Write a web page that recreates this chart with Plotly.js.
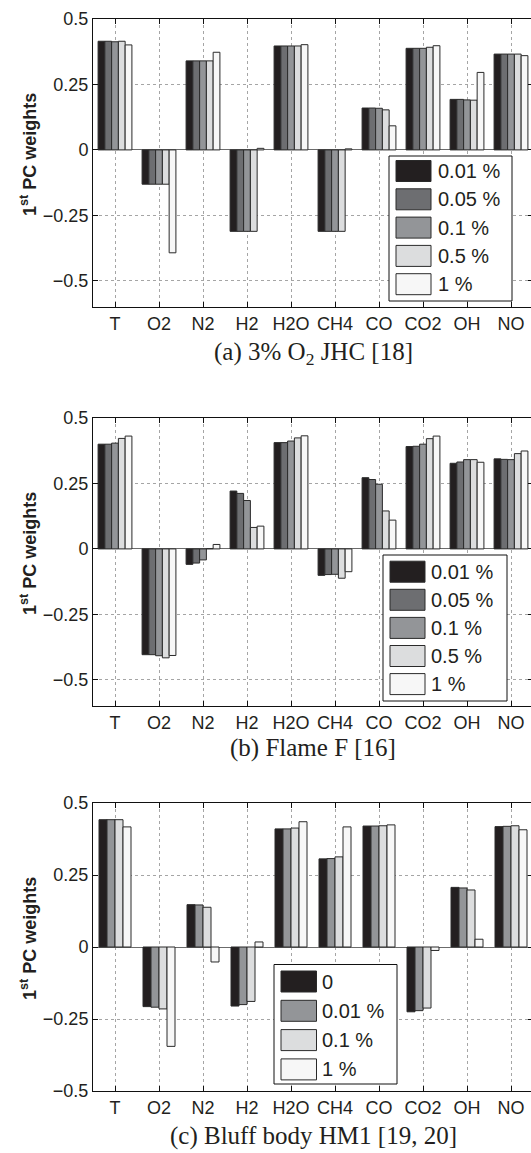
<!DOCTYPE html>
<html>
<head>
<meta charset="utf-8">
<script src="https://cdn.plot.ly/plotly-3.0.1.min.js"></script>
<style>
  html, body { margin: 0; padding: 0; overflow: hidden; background: #fff; }
</style>
</head>
<body>
<div id="chart"></div>
<script>
// Species on the x axis
const species = ['T', 'O2', 'N2', 'H2', 'H2O', 'CH4', 'CO', 'CO2', 'OH', 'NO'];

// Y tick positions and labels (shared by all three panels)
const yTickVals = [-0.5, -0.25, 0, 0.25, 0.5];
const yTickText = ['\u22120.5', '\u22120.25', '0', '0.25', '0.5'];

// Legend labels
const seriesAB = ['0.01 %', '0.05 %', '0.1 %', '0.5 %', '1 %'];
const seriesC = ['0', '0.01 %', '0.1 %', '1 %'];

// (a) 3% O2 JHC: first PC weights per noise level
const jhc_001 = [0.415, -0.131, 0.340, -0.311, 0.397, -0.311, 0.160, 0.388, 0.193, 0.366];
const jhc_005 = [0.415, -0.131, 0.340, -0.311, 0.397, -0.311, 0.160, 0.388, 0.193, 0.366];
const jhc_01  = [0.413, -0.131, 0.340, -0.311, 0.397, -0.311, 0.159, 0.388, 0.191, 0.366];
const jhc_05  = [0.415, -0.131, 0.340, -0.311, 0.397, -0.311, 0.153, 0.392, 0.190, 0.366];
const jhc_1   = [0.401, -0.393, 0.373,  0.006, 0.402,  0.004, 0.092, 0.398, 0.296, 0.360];

// (b) Flame F
const flf_001 = [0.400, -0.404, -0.059, 0.221, 0.406, -0.101, 0.272, 0.391, 0.327, 0.344];
const flf_005 = [0.400, -0.404, -0.054, 0.212, 0.406, -0.098, 0.265, 0.392, 0.332, 0.342];
const flf_01  = [0.404, -0.408, -0.042, 0.185, 0.412, -0.097, 0.247, 0.400, 0.341, 0.341];
const flf_05  = [0.422, -0.416,  0.001, 0.082, 0.424, -0.112, 0.145, 0.421, 0.341, 0.364];
const flf_1   = [0.431, -0.407,  0.017, 0.087, 0.432, -0.087, 0.110, 0.431, 0.331, 0.374];

// (c) Bluff body HM1
const hm1_0   = [0.442, -0.207,  0.147, -0.205, 0.410, 0.306, 0.420, -0.225, 0.207, 0.418];
const hm1_001 = [0.442, -0.209,  0.146, -0.200, 0.410, 0.307, 0.420, -0.221, 0.205, 0.419];
const hm1_01  = [0.442, -0.215,  0.138, -0.189, 0.413, 0.313, 0.421, -0.212, 0.198, 0.421];
const hm1_1   = [0.417, -0.345, -0.052,  0.0175, 0.435, 0.417, 0.424, -0.012, 0.027, 0.407];

// Captions under each panel
const captions = [
  '(a) 3% O<sub>2</sub> JHC [18]',
  '(b) Flame F [16]',
  '(c) Bluff body HM1 [19, 20]'
];

// ---------------------------------------------------------------- layout geometry (px)
const W = 533, H = 1153, ML = 93, MR = 0, MT = 19, MB = 62;
const PW = W - ML - MR, PH = H - MT - MB;
const px2x = px => (px - ML) / PW;
const px2y = py => (H - MB - py) / PH;

const greys5 = ['#231f20', '#6d6e71', '#939598', '#dcddde', '#f7f7f7'];
const greys4 = ['#231f20', '#939598', '#dcddde', '#f7f7f7'];

const panels = [
  { names: seriesAB, values: [jhc_001, jhc_005, jhc_01, jhc_05, jhc_1], colors: greys5,
    top: 19, bottom: 307, range: [-0.6, 0.5],
    legend: { x0: 389, x1: 512, y0: 156, y1: 301, sw0: 396, sw1: 431, row0: 171, step: 28.3, tx: 436 },
    capY: 353 },
  { names: seriesAB, values: [flf_001, flf_005, flf_01, flf_05, flf_1], colors: greys5,
    top: 418, bottom: 706, range: [-0.6, 0.5],
    legend: { x0: 383, x1: 507, y0: 555, y1: 701, sw0: 390, sw1: 425, row0: 571.7, step: 28.1, tx: 429 },
    capY: 748 },
  { names: seriesC, values: [hm1_0, hm1_001, hm1_01, hm1_1], colors: greys4,
    top: 803, bottom: 1091, range: [-0.5, 0.5],
    legend: { x0: 274, x1: 397, y0: 964.5, y1: 1084, sw0: 281, sw1: 316.5, row0: 981.5, step: 29.3, tx: 320 },
    capY: 1136 }
];

const axisFont = { family: 'Liberation Sans, Arial, sans-serif', size: 18, color: '#231f20' };
const traces = [];
const layout = {
  width: W, height: H,
  margin: { l: ML, r: MR, t: MT, b: MB, pad: 0 },
  paper_bgcolor: '#fff', plot_bgcolor: '#fff',
  barmode: 'overlay',
  showlegend: false,
  shapes: [], annotations: []
};

panels.forEach((p, k) => {
  const sfx = k === 0 ? '' : String(k + 1);
  const n = p.values.length;
  const gw = n / (n + 1.5);          // grouped-bar width per category
  const bw = gw / n;

  p.values.forEach((vals, i) => {
    traces.push({
      type: 'bar', x: species, y: vals,
      xaxis: 'x' + sfx, yaxis: 'y' + sfx,
      width: bw, offset: -gw / 2 + i * bw,
      marker: { color: p.colors[i], line: { color: '#2a2a2a', width: 1 } },
      hoverinfo: 'skip'
    });
  });

  layout['xaxis' + sfx] = {
    type: 'category', range: [-0.5, species.length - 0.5], anchor: 'y' + sfx,
    showgrid: true, gridcolor: '#a5a5a5', griddash: 'dot', gridwidth: 1,
    showline: true, linecolor: '#111', linewidth: 1, mirror: 'ticks',
    ticks: 'inside', ticklen: 5, tickcolor: '#111', tickwidth: 1,
    tickfont: axisFont, zeroline: false, fixedrange: true
  };
  layout['yaxis' + sfx] = {
    domain: [px2y(p.bottom), px2y(p.top)], range: p.range, anchor: 'x' + sfx,
    tickvals: yTickVals, ticktext: yTickText,
    showgrid: true, gridcolor: '#a5a5a5', griddash: 'dot', gridwidth: 1,
    zeroline: true, zerolinecolor: '#6b6b6b', zerolinewidth: 1,
    showline: true, linecolor: '#111', linewidth: 1, mirror: 'ticks',
    ticks: 'inside', ticklen: 5, tickcolor: '#111', tickwidth: 1,
    tickfont: axisFont, fixedrange: true
  };

  // y axis title
  layout.annotations.push({
    xref: 'paper', yref: 'paper', x: px2x(28), y: px2y((p.top + p.bottom) / 2 - 8),
    text: '<b>1<sup>st</sup> PC weights</b>', textangle: -90, showarrow: false,
    xanchor: 'center', yanchor: 'middle',
    font: { family: 'Liberation Sans, Arial, sans-serif', size: 18, color: '#231f20' }
  });

  // caption
  layout.annotations.push({
    xref: 'paper', yref: 'paper', x: 0.5, y: px2y(p.capY),
    text: captions[k], showarrow: false, xanchor: 'center', yanchor: 'middle',
    borderpad: 0,
    font: { family: 'Liberation Serif, Times New Roman, serif', size: 25, color: '#231f20' }
  });

  // legend box with large swatches
  const L = p.legend;
  layout.shapes.push({
    type: 'rect', xref: 'paper', yref: 'paper', layer: 'above',
    x0: px2x(L.x0), x1: px2x(L.x1), y0: px2y(L.y1), y1: px2y(L.y0),
    fillcolor: '#fff', line: { color: '#111', width: 1 }
  });
  p.names.forEach((name, i) => {
    const cy = L.row0 + i * L.step;
    layout.shapes.push({
      type: 'rect', xref: 'paper', yref: 'paper', layer: 'above',
      x0: px2x(L.sw0), x1: px2x(L.sw1), y0: px2y(cy + 10.5), y1: px2y(cy - 10.5),
      fillcolor: p.colors[i], line: { color: '#2a2a2a', width: 1 }
    });
    layout.annotations.push({
      xref: 'paper', yref: 'paper', x: px2x(L.tx), y: px2y(cy),
      text: name, showarrow: false, xanchor: 'left', yanchor: 'middle',
      font: { family: 'Liberation Sans, Arial, sans-serif', size: 20, color: '#231f20' }
    });
  });
});

Plotly.newPlot('chart', traces, layout, { displayModeBar: false, staticPlot: true });
</script>
</body>
</html>
